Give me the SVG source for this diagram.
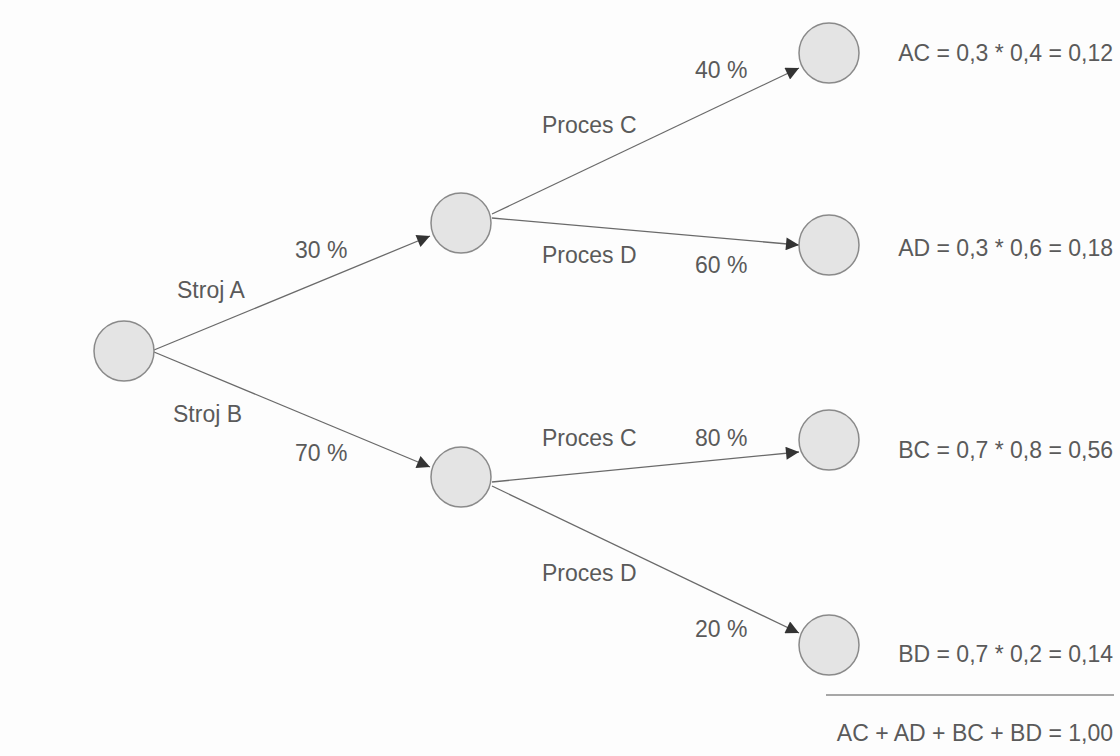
<svg xmlns="http://www.w3.org/2000/svg" width="1120" height="756" viewBox="0 0 1120 756">
  <style>
    .node { fill: #e4e4e4; stroke: #8a8a8a; stroke-width: 1.5; }
    .edge { stroke: #6a6a6a; stroke-width: 1.3; fill: none; marker-end: url(#arrow); }
    .lbl { font-family: "Liberation Sans", Arial, sans-serif; font-size: 23px; fill: #5a5a5a; }
    .rule { stroke: #8a8a8a; stroke-width: 1.3; }
  </style>
  <defs>
    <marker id="arrow" viewBox="0 0 10 10" refX="10" refY="5" markerWidth="15" markerHeight="13" markerUnits="userSpaceOnUse" orient="auto">
      <path d="M0,0 L10,5 L0,10 z" fill="#333"/>
    </marker>
  </defs>
  <rect width="1120" height="756" fill="#fdfdfd"/>

  <!-- connectors -->
  <g id="connectors">
    <line class="edge" x1="154" y1="350" x2="430" y2="236"/>
    <line class="edge" x1="154" y1="352" x2="430" y2="467"/>
    <line class="edge" x1="492" y1="214" x2="799" y2="68"/>
    <line class="edge" x1="492" y1="218" x2="799" y2="245"/>
    <line class="edge" x1="492" y1="482" x2="799" y2="452"/>
    <line class="edge" x1="492" y1="486" x2="799" y2="633"/>
  </g>

  <!-- nodes -->
  <g id="root"><circle class="node" cx="124" cy="351" r="30"/></g>
  <g id="machine-a"><circle class="node" cx="461" cy="223" r="30"/></g>
  <g id="machine-b"><circle class="node" cx="461" cy="477" r="30"/></g>
  <g id="ac"><circle class="node" cx="829" cy="53" r="30"/></g>
  <g id="ad"><circle class="node" cx="829" cy="245" r="30"/></g>
  <g id="bc"><circle class="node" cx="829" cy="440" r="30"/></g>
  <g id="bd"><circle class="node" cx="829" cy="645" r="30"/></g>

  <!-- edge labels -->
  <g id="labels">
    <text class="lbl" x="295" y="258">30 %</text>
    <text class="lbl" x="177" y="298">Stroj A</text>
    <text class="lbl" x="173" y="422">Stroj B</text>
    <text class="lbl" x="295" y="461">70 %</text>
    <text class="lbl" x="695" y="78">40 %</text>
    <text class="lbl" x="542" y="133">Proces C</text>
    <text class="lbl" x="542" y="263">Proces D</text>
    <text class="lbl" x="695" y="273">60 %</text>
    <text class="lbl" x="542" y="446">Proces C</text>
    <text class="lbl" x="695" y="446">80 %</text>
    <text class="lbl" x="542" y="581">Proces D</text>
    <text class="lbl" x="695" y="637">20 %</text>
  </g>

  <!-- results -->
  <g id="results">
    <text class="lbl" x="1113" y="61" text-anchor="end">AC = 0,3 * 0,4 = 0,12</text>
    <text class="lbl" x="1113" y="256" text-anchor="end">AD = 0,3 * 0,6 = 0,18</text>
    <text class="lbl" x="1113" y="458" text-anchor="end">BC = 0,7 * 0,8 = 0,56</text>
    <text class="lbl" x="1113" y="662" text-anchor="end">BD = 0,7 * 0,2 = 0,14</text>
    <line class="rule" x1="826" y1="695" x2="1114" y2="695"/>
    <text class="lbl" x="1113" y="741" text-anchor="end">AC + AD + BC + BD = 1,00</text>
  </g>
</svg>
